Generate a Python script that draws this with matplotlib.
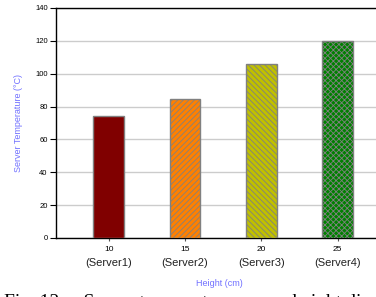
import matplotlib.pyplot as plt

heights = ['10', '15', '20', '25']
servers = ['(Server1)', '(Server2)', '(Server3)', '(Server4)']
temps = [74, 84.5, 106, 120]
colors = ['#800000', '#FF8000', '#C0C000', '#008000']
hatches = ['', '//////', '\\\\\\\\\\\\', 'xxxxxx']

plt.rcParams['font.family'] = ['Liberation Sans', 'DejaVu Sans']
plt.rcParams['hatch.linewidth'] = 0.6

fig = plt.figure(figsize=(3.76, 2.97), dpi=100)
ax = fig.add_axes([56 / 376, (297 - 238) / 297, 1.02 - 56 / 376, 230 / 297])

x = range(len(heights))
for i in x:
    ax.bar(i, temps[i], width=0.4, color=colors[i], edgecolor='#808080',
           hatch=hatches[i], linewidth=1, zorder=3)

ax.set_ylim(0, 140)
ax.set_yticks(range(0, 141, 20))
ax.set_xlim(-0.69, 3.6)
ax.set_xticks(list(x))
ax.set_xticklabels(heights, fontsize=6)
for i in x:
    ax.text(i, -0.085, servers[i], transform=ax.get_xaxis_transform(),
            ha='center', va='top', fontsize=8, color='#222222')

ax.tick_params(axis='y', labelsize=5.5, length=4, width=0.8, pad=2)
ax.tick_params(axis='x', length=2.5, width=0.8, pad=3, color='#555555')
ax.yaxis.grid(True, color='#CCCCCC', linewidth=1, zorder=0)
ax.set_axisbelow(True)
ax.spines['right'].set_visible(False)
for s in ['left', 'bottom', 'top']:
    ax.spines[s].set_linewidth(1)

ax.set_ylabel('Server Temperature (°C)', fontsize=6.5, color='#7070FF', labelpad=9)
ax.set_xlabel('Height (cm)', fontsize=6.5, color='#7070FF', labelpad=19)

fig.text(0.01, 1 - 294 / 297, 'Fig. 12.    Server temperature versus height di',
         fontsize=14, family='Liberation Serif', va='top')

fig.savefig('out.png', dpi=100)
